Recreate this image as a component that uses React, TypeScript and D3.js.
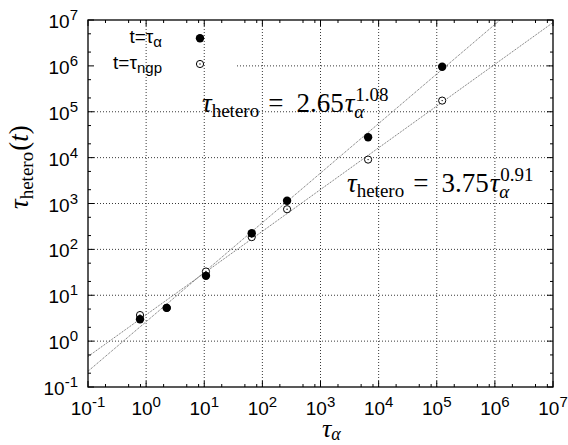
import React from "react";
import * as d3 from "d3";

// ---- data ----
const tauAlpha = [0.785, 2.26, 10.7, 65.6, 266, 6590, 124000];
const tauHeteroAtAlpha = [3.0, 5.3, 26.5, 225, 1150, 27800, 960000];
const tauHeteroAtNgp = [3.7, 5.3, 32.9, 185, 750, 9060, 175000];
const tickExponents = [-1, 0, 1, 2, 3, 4, 5, 6, 7];
const fitAlpha = { a: 2.65, b: 1.08, label: "2.65", exp: "1.08" };
const fitNgp = { a: 3.75, b: 0.91, label: "3.75", exp: "0.91" };
const minorX = [2, 5, 8];
const minorY = [2, 5];

const W = 568;
const H = 445;
const L = 88, R = 553, T = 20, B = 387;

const SANS = "'Liberation Sans', Arial, Helvetica, sans-serif";
const SERIF = "'Liberation Serif', 'Times New Roman', serif";

function Formula({ x, y, coef, exp }: { x: number; y: number; coef: string; exp: string }) {
  return (
    <text x={x} y={y} fontFamily={SERIF} fontSize={27} fill="#000">
      <tspan fontStyle="italic">τ</tspan>
      <tspan fontSize={19} dy={5}>hetero</tspan>
      <tspan dy={-5} dx={9}>=</tspan>
      <tspan dx={13}>{coef}</tspan>
      <tspan fontStyle="italic" dx={1}>τ</tspan>
      <tspan fontStyle="italic" fontSize={19} dy={6}>α</tspan>
      <tspan fontSize={19} dy={-17} dx={-9}>{exp}</tspan>
    </text>
  );
}

export default function App() {
  const x = d3.scaleLog().domain([0.1, 1e7]).range([L, R]);
  const y = d3.scaleLog().domain([0.1, 1e7]).range([B, T]);

  const decades = tickExponents.map((e) => Math.pow(10, e));
  const minorXs: number[] = [];
  const minorYs: number[] = [];
  decades.slice(0, -1).forEach((d) => {
    minorX.forEach((m) => minorXs.push(d * m));
    minorY.forEach((m) => minorYs.push(d * m));
  });

  const fitPath = (f: { a: number; b: number }) => {
    const xs = [0.1, 1e7];
    return d3
      .line<number>()
      .x((d) => x(d))
      .y((d) => y(f.a * Math.pow(d, f.b)))(xs) as string;
  };

  return (
    <svg
      width={W}
      height={H}
      style={{ position: "absolute", left: 0, top: 0, background: "#fff" }}
    >
      <defs>
        <clipPath id="plotclip">
          <rect x={L} y={T} width={R - L} height={B - T} />
        </clipPath>
      </defs>
      <rect x={0} y={0} width={W} height={H} fill="#fff" />

      {/* grid */}
      <g stroke="#222" strokeWidth={0.9} strokeDasharray="1,2">
        {decades.slice(1, -1).map((d) => (
          <line key={"gx" + d} x1={x(d)} x2={x(d)} y1={T} y2={B} />
        ))}
        {decades.slice(1, -1).map((d) => (
          <line
            key={"gy" + d}
            x1={d === 1e6 ? 237 : L}
            x2={R}
            y1={y(d)}
            y2={y(d)}
          />
        ))}
      </g>

      {/* fit lines */}
      <g clipPath="url(#plotclip)" fill="none" stroke="#555" strokeWidth={0.9} strokeDasharray="1,1">
        <path d={fitPath(fitAlpha)} />
        <path d={fitPath(fitNgp)} />
      </g>

      {/* ticks */}
      <g stroke="#000" strokeWidth={1}>
        {decades.map((d) => (
          <g key={"t" + d}>
            <line x1={x(d)} x2={x(d)} y1={B} y2={B - 6} />
            <line x1={x(d)} x2={x(d)} y1={T} y2={T + 6} />
            <line x1={L} x2={L + 6} y1={y(d)} y2={y(d)} />
            <line x1={R} x2={R - 6} y1={y(d)} y2={y(d)} />
          </g>
        ))}
        {minorXs.map((d) => (
          <g key={"mx" + d}>
            <line x1={x(d)} x2={x(d)} y1={B} y2={B - 3} />
            <line x1={x(d)} x2={x(d)} y1={T} y2={T + 3} />
          </g>
        ))}
        {minorYs.map((d) => (
          <g key={"my" + d}>
            <line x1={L} x2={L + 3} y1={y(d)} y2={y(d)} />
            <line x1={R} x2={R - 3} y1={y(d)} y2={y(d)} />
          </g>
        ))}
      </g>

      {/* border */}
      <rect x={L} y={T} width={R - L} height={B - T} fill="none" stroke="#000" strokeWidth={1.3} />

      {/* tick labels */}
      <g fontFamily={SANS} fontSize={19} fill="#000">
        {tickExponents.map((e) => (
          <text key={"xl" + e} x={x(Math.pow(10, e))} y={415} textAnchor="middle">
            10<tspan fontSize={15} dy={-8}>{e}</tspan>
          </text>
        ))}
        {tickExponents.map((e) => (
          <text key={"yl" + e} x={78} y={y(Math.pow(10, e)) + 8} textAnchor="end">
            10<tspan fontSize={15} dy={-8}>{e}</tspan>
          </text>
        ))}
      </g>

      {/* data points */}
      <g>
        {tauAlpha.map((t, i) => (
          <g key={"o" + i}>
            <circle cx={x(t)} cy={y(tauHeteroAtNgp[i])} r={3.6} fill="#fff" stroke="#000" strokeWidth={1} />
            <circle cx={x(t)} cy={y(tauHeteroAtNgp[i])} r={0.7} fill="#000" />
          </g>
        ))}
        {tauAlpha.map((t, i) => (
          <circle key={"f" + i} cx={x(t)} cy={y(tauHeteroAtAlpha[i])} r={4.2} fill="#000" />
        ))}
      </g>

      {/* legend */}
      <g fontFamily={SANS} fontSize={19} fill="#000">
        <text x={162} y={43} textAnchor="end">
          t=τ<tspan fontSize={15} dy={4}>α</tspan>
        </text>
        <text x={162} y={69} textAnchor="end">
          t=τ<tspan fontSize={15} dy={4}>ngp</tspan>
        </text>
        <circle cx={200} cy={38.3} r={4.2} fill="#000" />
        <circle cx={200} cy={64} r={3.6} fill="#fff" stroke="#000" strokeWidth={1} />
        <circle cx={200} cy={64} r={0.7} fill="#000" />
      </g>

      {/* annotations */}
      <Formula x={202} y={112} coef={fitAlpha.label} exp={fitAlpha.exp} />
      <Formula x={347} y={192} coef={fitNgp.label} exp={fitNgp.exp} />

      {/* axis titles */}
      <text x={322} y={437} fontFamily={SERIF} fontSize={26} fill="#000">
        <tspan fontStyle="italic">τ</tspan>
        <tspan fontStyle="italic" fontSize={18} dy={3}>α</tspan>
      </text>
      <text transform="translate(28,209) rotate(-90)" fontFamily={SERIF} fontSize={27} fill="#000">
        <tspan fontStyle="italic">τ</tspan>
        <tspan fontSize={19} dy={5}>hetero</tspan>
        <tspan dy={-5} dx={1}>(</tspan>
        <tspan fontStyle="italic">t</tspan>
        <tspan>)</tspan>
      </text>
    </svg>
  );
}
